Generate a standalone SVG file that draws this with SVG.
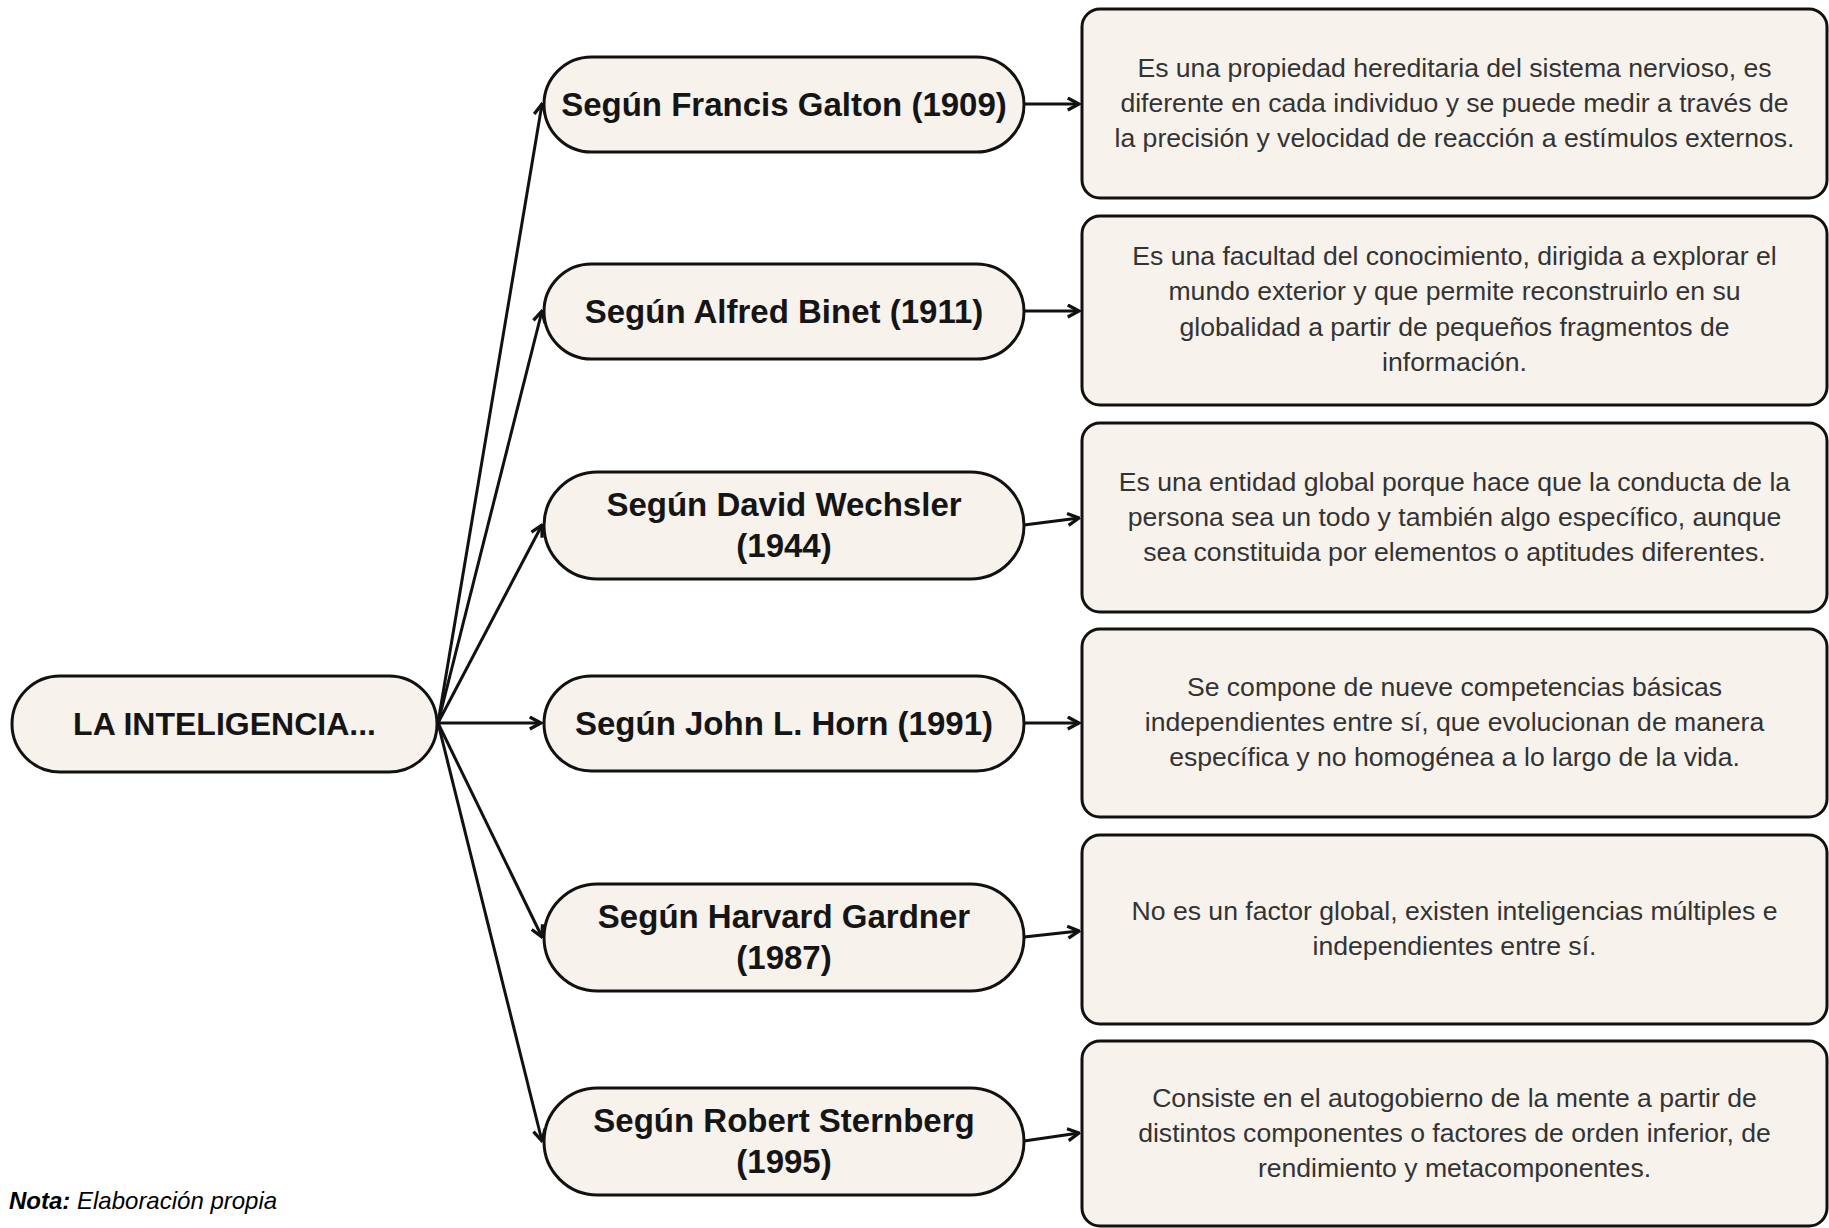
<svg xmlns="http://www.w3.org/2000/svg" width="1829" height="1228" viewBox="0 0 1829 1228">
<style>
.node{fill:#F7F2EC;stroke:#111;stroke-width:3}
.nt{font-family:"Liberation Sans",Arial,sans-serif;font-weight:bold;font-size:33px;fill:#151515;text-anchor:middle}
.rt{font-size:32px}
.dt{font-family:"Liberation Sans",Arial,sans-serif;font-size:26.6px;fill:#333;text-anchor:middle}
.c{stroke:#111;stroke-width:3;fill:none;marker-end:url(#ah)}
</style>
<defs>
<marker id="ah" viewBox="0 0 10 10" refX="9" refY="5" markerWidth="5" markerHeight="5" markerUnits="strokeWidth" orient="auto">
<path d="M1.5,1 L9,5 L1.5,9" fill="none" stroke="#111" stroke-width="2.2"/>
</marker>
</defs>
<rect width="1829" height="1228" fill="#fff"/>
<g id="connectors">
<line class="c" x1="438" y1="723" x2="542" y2="104"/>
<line class="c" x1="438" y1="723" x2="542" y2="311"/>
<line class="c" x1="438" y1="723" x2="542" y2="525"/>
<line class="c" x1="438" y1="723" x2="541" y2="723"/>
<line class="c" x1="438" y1="723" x2="542" y2="937"/>
<line class="c" x1="438" y1="723" x2="542" y2="1141"/>
<line class="c" x1="1024" y1="104" x2="1079" y2="104"/>
<line class="c" x1="1024" y1="311" x2="1079" y2="311"/>
<line class="c" x1="1024" y1="525" x2="1079" y2="518"/>
<line class="c" x1="1024" y1="723" x2="1079" y2="723"/>
<line class="c" x1="1024" y1="937" x2="1079" y2="931"/>
<line class="c" x1="1024" y1="1141" x2="1079" y2="1133"/>
</g>
<g id="root">
<rect class="node" x="12" y="676" width="425" height="96" rx="48"/>
<text class="nt rt" x="224.5" y="735">LA INTELIGENCIA...</text>
</g>
<g id="galton">
<rect class="node" x="544" y="57" width="480" height="95" rx="47.5"/>
<text class="nt" x="784" y="116">Según Francis Galton (1909)</text>
</g>
<g id="binet">
<rect class="node" x="544" y="264" width="480" height="95" rx="47.5"/>
<text class="nt" x="784" y="323">Según Alfred Binet (1911)</text>
</g>
<g id="wechsler">
<rect class="node" x="544" y="472" width="480" height="107" rx="53.5"/>
<text class="nt" x="784" y="516">Según David Wechsler</text>
<text class="nt" x="784" y="557">(1944)</text>
</g>
<g id="horn">
<rect class="node" x="544" y="676" width="480" height="95" rx="47.5"/>
<text class="nt" x="784" y="735">Según John L. Horn (1991)</text>
</g>
<g id="gardner">
<rect class="node" x="544" y="884" width="480" height="107" rx="53.5"/>
<text class="nt" x="784" y="928">Según Harvard Gardner</text>
<text class="nt" x="784" y="969">(1987)</text>
</g>
<g id="sternberg">
<rect class="node" x="544" y="1088" width="480" height="107" rx="53.5"/>
<text class="nt" x="784" y="1132">Según Robert Sternberg</text>
<text class="nt" x="784" y="1173">(1995)</text>
</g>
<g id="desc1">
<rect class="node" x="1082" y="9" width="745" height="189" rx="18"/>
<text class="dt" x="1454.5" y="77">Es una propiedad hereditaria del sistema nervioso, es</text>
<text class="dt" x="1454.5" y="112">diferente en cada individuo y se puede medir a través de</text>
<text class="dt" x="1454.5" y="147">la precisión y velocidad de reacción a estímulos externos.</text>
</g>
<g id="desc2">
<rect class="node" x="1082" y="216" width="745" height="189" rx="18"/>
<text class="dt" x="1454.5" y="265">Es una facultad del conocimiento, dirigida a explorar el</text>
<text class="dt" x="1454.5" y="300">mundo exterior y que permite reconstruirlo en su</text>
<text class="dt" x="1454.5" y="336">globalidad a partir de pequeños fragmentos de</text>
<text class="dt" x="1454.5" y="371">información.</text>
</g>
<g id="desc3">
<rect class="node" x="1082" y="423" width="745" height="189" rx="18"/>
<text class="dt" x="1454.5" y="491">Es una entidad global porque hace que la conducta de la</text>
<text class="dt" x="1454.5" y="526">persona sea un todo y también algo específico, aunque</text>
<text class="dt" x="1454.5" y="561">sea constituida por elementos o aptitudes diferentes.</text>
</g>
<g id="desc4">
<rect class="node" x="1082" y="629" width="745" height="188" rx="18"/>
<text class="dt" x="1454.5" y="696">Se compone de nueve competencias básicas</text>
<text class="dt" x="1454.5" y="731">independientes entre sí, que evolucionan de manera</text>
<text class="dt" x="1454.5" y="766">específica y no homogénea a lo largo de la vida.</text>
</g>
<g id="desc5">
<rect class="node" x="1082" y="835" width="745" height="189" rx="18"/>
<text class="dt" x="1454.5" y="920">No es un factor global, existen inteligencias múltiples e</text>
<text class="dt" x="1454.5" y="955">independientes entre sí.</text>
</g>
<g id="desc6">
<rect class="node" x="1082" y="1041" width="745" height="185" rx="18"/>
<text class="dt" x="1454.5" y="1107">Consiste en el autogobierno de la mente a partir de</text>
<text class="dt" x="1454.5" y="1142">distintos componentes o factores de orden inferior, de</text>
<text class="dt" x="1454.5" y="1177">rendimiento y metacomponentes.</text>
</g>
<g id="nota">
<text x="9" y="1209" font-family="Liberation Sans,Arial,sans-serif" font-size="24" font-style="italic" fill="#000"><tspan font-weight="bold">Nota:</tspan> Elaboración propia</text>
</g>
</svg>
